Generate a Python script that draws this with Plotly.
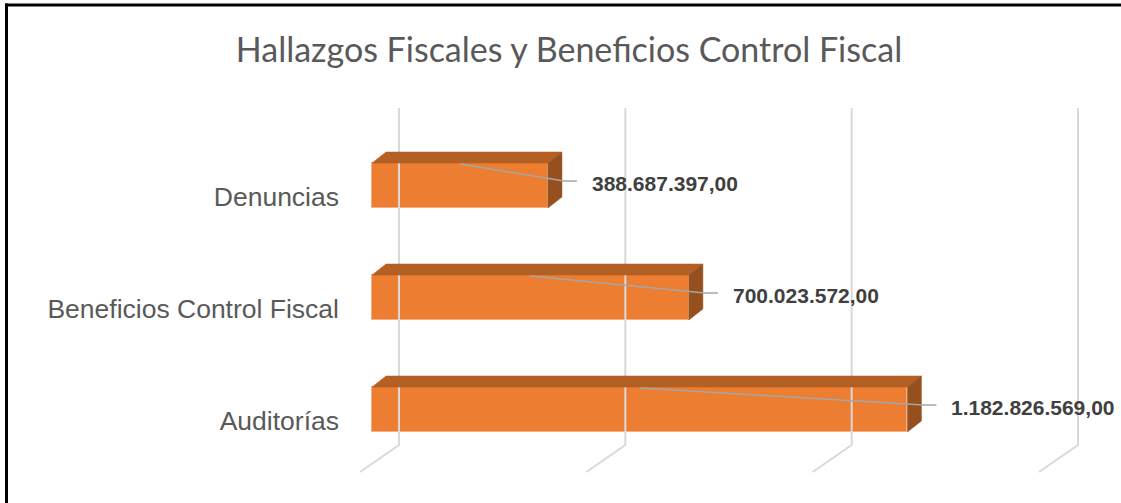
import plotly.graph_objects as go

# ---- data ----
categories = ["Auditorías", "Beneficios Control Fiscal", "Denuncias"]
values = [1182826569.00, 700023572.00, 388687397.00]
value_labels = ["1.182.826.569,00", "700.023.572,00", "388.687.397,00"]
grid_values = [0, 500e6, 1000e6, 1500e6]

# ---- geometry / style ----
W, H = 1121, 503
L, R, T, B = 350, 11, 100, 23
pw, ph = W - L - R, H - T - B
k = 679 / 1500e6            # px per unit value
x0 = -22 / k
x1 = x0 + pw / k
py_unit = 112               # px per category
y1 = 2 + (185.5 - T) / py_unit
y0 = y1 - ph / py_unit

def dxv(px):
    return px / k

def dyv(px):
    return px / py_unit

bar_w = 45 / py_unit
front_c = "#ED7D31"
top_c = "#B45F23"
side_c = "#96501E"
grid_c = "#D9D9D9"

fig = go.Figure()

# back wall + floor gridlines
back_dx = dxv(27)
wall_top = y1 - dyv(108 - T)
wall_bot = y1 - dyv(445 - T)
floor_front = y1 - dyv(472 - T)
for g in grid_values:
    fig.add_trace(go.Scatter(
        x=[g + back_dx, g + back_dx, g - dxv(12)],
        y=[wall_top, wall_bot, floor_front],
        mode="lines", line=dict(color=grid_c, width=2),
        hoverinfo="skip", showlegend=False))

ys = list(range(len(categories)))
dx3 = dxv(14)
dy3 = dyv(11)

# front faces
fig.add_trace(go.Bar(
    y=ys, x=values, orientation="h", width=bar_w,
    marker=dict(color=front_c, line=dict(color="#F4B183", width=1)),
    showlegend=False, hoverinfo="skip"))

for yi, v in zip(ys, values):
    top = yi + bar_w / 2
    bot = yi - bar_w / 2
    # top face
    fig.add_trace(go.Scatter(
        x=[0, v, v + dx3, dx3, 0], y=[top, top, top + dy3, top + dy3, top],
        fill="toself", fillcolor=top_c, mode="lines",
        line=dict(color=top_c, width=0.5), hoverinfo="skip", showlegend=False))
    # side face
    fig.add_trace(go.Scatter(
        x=[v, v + dx3, v + dx3, v, v], y=[top, top + dy3, bot + dy3, bot, top],
        fill="toself", fillcolor=side_c, mode="lines",
        line=dict(color=side_c, width=0.5), hoverinfo="skip", showlegend=False))

# leader lines and data labels
for yi, v, lab in zip(ys, values, value_labels):
    top = yi + bar_w / 2
    ye = yi + dyv(4.5)
    fig.add_trace(go.Scatter(
        x=[v / 2, v + dxv(16), v + dxv(29)], y=[top - dyv(1), ye, ye],
        mode="lines", line=dict(color="#A6A6A6", width=1.5),
        hoverinfo="skip", showlegend=False))
    fig.add_annotation(
        x=v + dxv(42), y=yi + dyv(2.5), text="<b>" + lab + "</b>",
        xanchor="left", yanchor="middle", showarrow=False,
        font=dict(family="Liberation Sans, Arial", size=21, color="#404040"))

# frame (top and left black border)
def px_to_paper_x(px):
    return (px - L) / pw

def px_to_paper_y(py):
    return 1 - (py - T) / ph

fig.add_shape(type="line", xref="paper", yref="paper",
              x0=px_to_paper_x(5), x1=px_to_paper_x(1125),
              y0=px_to_paper_y(5), y1=px_to_paper_y(5),
              line=dict(color="black", width=3))
fig.add_shape(type="line", xref="paper", yref="paper",
              x0=px_to_paper_x(6.5), x1=px_to_paper_x(6.5),
              y0=px_to_paper_y(3.5), y1=px_to_paper_y(510),
              line=dict(color="black", width=3))

fig.update_layout(
    width=W, height=H,
    margin=dict(l=L, r=R, t=T, b=B),
    paper_bgcolor="white", plot_bgcolor="white",
    title=dict(text="Hallazgos Fiscales y Beneficios Control Fiscal",
               x=569 / W, xanchor="center", y=1 - 50 / H, yanchor="middle",
               font=dict(family="Lato", size=34, color="#595959", weight=400)),
    xaxis=dict(range=[x0, x1], visible=False, fixedrange=True),
    yaxis=dict(range=[y0, y1], tickvals=[y - dyv(11) for y in ys],
               ticktext=categories, showgrid=False, zeroline=False,
               showline=False, ticks="", ticklabelstandoff=10, fixedrange=True,
               tickfont=dict(family="Liberation Sans, Arial", size=26.5, color="#595959")),
    bargap=0,
)

fig.write_html("out.html", config={"displayModeBar": False},
               post_script="document.body.style.margin='0px';document.body.style.overflow='hidden';")
